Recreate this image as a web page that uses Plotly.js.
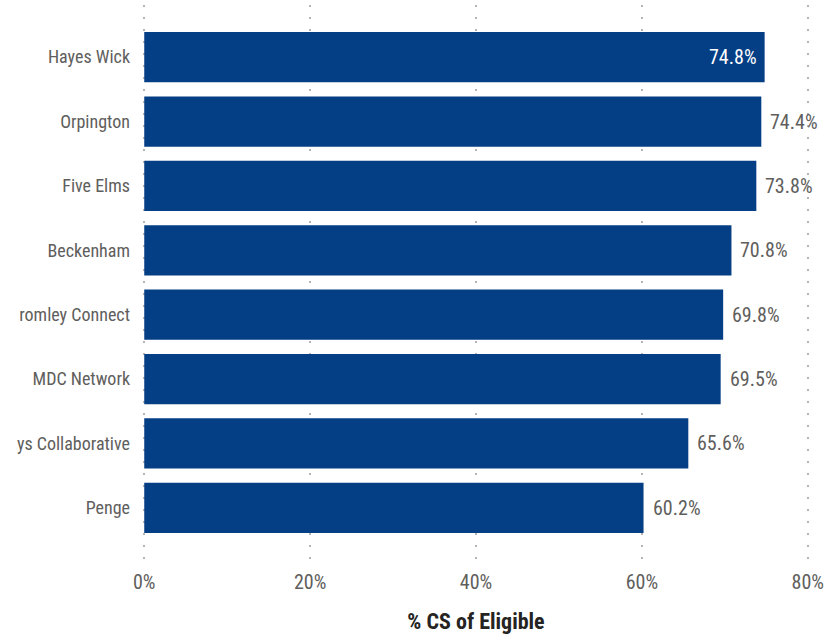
<!DOCTYPE html>
<html>
<head>
<meta charset="utf-8">
<script src="https://cdn.plot.ly/plotly-3.0.1.min.js"></script>
<style>html,body{margin:0;padding:0;background:#fff;}#chart{width:839px;height:639px;}</style>
</head>
<body>
<div id="chart"></div>
<script>
const categories = ["Hayes Wick", "Orpington", "Five Elms", "Beckenham", "romley Connect", "MDC Network", "ys Collaborative", "Penge"];
const values = [74.8, 74.4, 73.8, 70.8, 69.8, 69.5, 65.6, 60.2];
const tickVals = [0, 20, 40, 60, 80];
const tickText = ["0%", "20%", "40%", "60%", "80%"];

const FONT = "'Liberation Sans Narrow', 'Arial Narrow', 'Roboto Condensed', 'Liberation Sans', sans-serif";
const labelColor = "#605E5C";

const trace = {
  type: "bar",
  orientation: "h",
  y: categories,
  x: values,
  marker: {color: "#043E84"},
  cliponaxis: false,
  hoverinfo: "none"
};

const annotations = values.map((v, i) => {
  const inside = i === 0;
  return {
    x: v, y: categories[i], xref: "x", yref: "y",
    text: v.toFixed(1) + "%",
    showarrow: false,
    xanchor: inside ? "right" : "left",
    xshift: inside ? -6 : 7,
    font: {family: FONT, size: 20, color: inside ? "#ffffff" : labelColor}
  };
});

const layout = {
  width: 839, height: 639,
  margin: {l: 143, r: 30, t: 5, b: 79},
  paper_bgcolor: "#fff", plot_bgcolor: "#fff",
  bargap: 0.22,
  showlegend: false,
  font: {family: FONT, color: labelColor},
  annotations: annotations,
  xaxis: {
    range: [-0.15, 80.15],
    tickvals: tickVals,
    ticktext: tickText,
    tickfont: {family: FONT, size: 20, color: labelColor},
    ticklabelstandoff: 8,
    showgrid: true,
    gridcolor: "#B4B4B4",
    griddash: "2px,10px",
    gridwidth: 2,
    zeroline: false,
    showline: false,
    ticks: "",
    ticklen: 0,
    automargin: false,
    title: {text: "% CS of Eligible", font: {family: FONT, size: 22, color: "#252423", weight: "bold"}, standoff: 20}
  },
  yaxis: {
    type: "category",
    range: [7.81, -0.81],
    tickfont: {family: FONT, size: 18, color: labelColor},
    ticklabelstandoff: 12,
    ticks: "",
    ticklen: 0,
    showgrid: false,
    zeroline: false,
    showline: false,
    automargin: false
  }
};

Plotly.newPlot("chart", [trace], layout, {displayModeBar: false, staticPlot: true});
</script>
</body>
</html>
